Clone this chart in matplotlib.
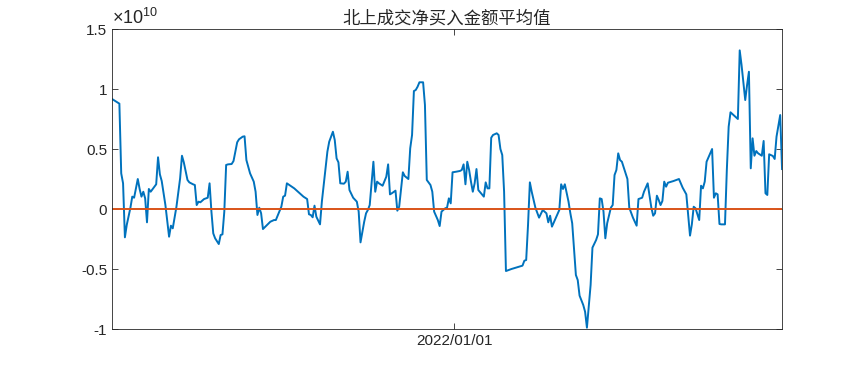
import numpy as np
import pandas as pd
import matplotlib
matplotlib.use('Agg')
import matplotlib.pyplot as plt
import matplotlib.dates as mdates

plt.rcParams['font.family'] = ['Liberation Sans', 'Noto Sans CJK SC', 'DejaVu Sans']
plt.rcParams['mathtext.fontset'] = 'custom'
plt.rcParams['mathtext.rm'] = 'Liberation Sans'
plt.rcParams['mathtext.default'] = 'regular'

# Start date of the series and day offsets of each observation
start_date = '2021-06-29'
day_offsets = [
    0, 4, 5, 6, 7, 8, 10, 11, 12, 14, 15, 16, 17, 18, 19, 20, 21, 23, 24, 25,
    26, 27, 29, 31, 32, 33, 35, 37, 38, 39, 41, 42, 44, 45, 46, 47, 48, 50, 52, 53,
    54, 55, 56, 58, 59, 60, 61, 62, 63, 65, 66, 68, 69, 71, 72, 73, 75, 77, 78, 79,
    80, 81, 82, 86, 88, 89, 92, 93, 94, 95, 99, 102, 104, 106, 107, 108, 109, 110, 111, 113,
    114, 117, 118, 120, 121, 122, 123, 124, 126, 127, 128, 129, 131, 133, 134, 135, 137, 138, 139, 140,
    142, 143, 144, 145, 147, 149, 150, 151, 152, 154, 155, 156, 158, 159, 161, 162, 163, 164, 165, 166,
    167, 169, 170, 171, 173, 174, 175, 177, 178, 179, 180, 181, 182, 183, 184, 185, 187, 189, 190, 191,
    192, 193, 194, 195, 196, 197, 198, 199, 201, 202, 203, 204, 205, 206, 207, 209, 210, 211, 212, 213,
    214, 217, 220, 223, 224, 225, 226, 227, 228, 230, 232, 234, 235, 236, 237, 238, 239, 241, 243, 244,
    245, 246, 248, 249, 250, 252, 253, 254, 256, 257, 258, 260, 261, 263, 264, 265, 266, 267, 268, 269,
    271, 272, 273, 274, 275, 276, 277, 279, 280, 281, 283, 285, 286, 288, 289, 291, 293, 294, 295, 296,
    297, 298, 299, 300, 301, 302, 305, 308, 310, 312, 313, 314, 315, 316, 317, 319, 320, 321, 322, 323,
    325, 326, 327, 328, 329, 330, 331, 333, 334, 335, 336, 338, 340, 341, 342, 344, 345, 346, 347, 348,
    349, 350, 351, 353, 354, 355, 356, 357, 359, 360, 361, 363, 364,
]

# Average northbound net buy amount, in units of 1e8 yuan
net_buy_yi = [
    91.7, 87.8, 29.7, 21.4, -23.6, -13.3, 1.1, 10.3, 9.4, 25.0, 16.7, 10.3, 14.4, 8.9, -11.1, 16.7, 14.4, 18.6, 20.6, 43.1,
    28.9, 23.3, 3.3, -23.1, -13.9, -16.1, 1.9, 25.6, 44.4, 38.9, 24.2, 22.2, 20.6, 20.0, 3.3, 6.1, 5.6, 8.3, 9.4, 21.4,
    -2.2, -20.3, -24.4, -29.2, -21.7, -21.1, -2.2, 36.7, 37.2, 37.5, 40.0, 55.6, 58.1, 60.3, 60.6, 40.8, 29.7, 22.8, 14.4, -5.0,
    1.1, -3.6, -16.7, -10.6, -9.2, -9.2, 2.0, 10.3, 11.1, 21.4, 17.2, 13.1, 10.3, 8.3, -4.4, -5.0, -6.9, 2.8, -6.4, -12.8,
    6.1, 47.8, 56.1, 64.4, 57.5, 42.2, 38.9, 21.4, 21.1, 22.8, 31.1, 15.8, 9.4, 6.1, -2.2, -27.8, -10.6, -3.6, -0.8, 3.3,
    39.4, 14.4, 22.8, 21.4, 19.4, 26.9, 37.2, 12.2, 13.1, 15.3, -1.4, 1.9, 30.6, 27.5, 25.0, 50.6, 61.7, 98.3, 99.2, 101.9,
    105.6, 105.6, 86.7, 24.2, 20.0, 14.4, -2.2, -9.2, -14.2, -2.2, -0.8, 0.6, 1.1, 8.9, 4.7, 30.6, 31.1, 31.7, 32.5, 37.2,
    20.6, 39.4, 32.5, 22.8, 14.4, 21.4, 33.3, 15.8, 12.2, 10.3, 22.2, 17.2, 17.2, 59.4, 61.7, 63.1, 61.7, 50.0, 45.0, 14.4,
    -51.7, -50.0, -48.6, -47.2, -43.1, -42.5, -13.3, 22.2, 14.4, 1.1, -7.2, -0.8, -2.2, -3.6, -11.1, -5.6, -14.7, -7.8, -0.8, 20.6,
    16.7, 20.6, 6.1, -3.6, -11.9, -55.0, -59.2, -72.2, -80.0, -85.6, -98.9, -63.3, -32.2, -25.8, -21.1, 8.9, 8.3, -2.2, -24.4, -11.9,
    1.1, 3.3, 28.3, 32.5, 46.4, 40.8, 39.4, 29.7, 25.0, 1.1, -7.2, -13.9, 8.3, 9.4, 14.4, 21.4, 1.1, -5.6, -3.6, 11.1,
    7.5, 3.3, 6.7, 22.8, 18.6, 21.9, 23.3, 25.0, 17.8, 12.2, -5.0, -22.2, -12.8, 1.9, 0.6, -9.2, 19.4, 17.2, 22.8, 39.4,
    46.4, 50.0, 9.4, 13.1, 12.2, -12.5, -12.8, -12.8, 32.5, 68.6, 80.6, 77.8, 75.0, 132.2, 120.0, 90.8, 103.3, 114.4, 33.9, 58.9,
    44.4, 48.3, 46.4, 44.4, 56.7, 13.1, 11.7, 45.6, 44.2, 41.7, 60.3, 78.3, 33.3,
]

y_ticks = [-1e10, -0.5e10, 0, 0.5e10, 1e10, 1.5e10]
x_tick_dates = ['2022-01-01']

dates = pd.to_datetime(start_date) + pd.to_timedelta(day_offsets, unit='D')
values = np.array(net_buy_yi) * 1e8

fig = plt.figure(figsize=(8.65, 3.71), dpi=100)
ax = fig.add_axes([0.1295, 0.1132, 0.7746, 0.8086])

ax.plot(dates, values, color='#0072BD', linewidth=1.4)
ax.plot(dates, np.zeros(len(dates)), color='#D95319', linewidth=1.4)

ax.set_xlim(dates[0], dates[-1])
ax.set_ylim(-1e10, 1.5e10)
ax.set_yticks(y_ticks)
ax.set_yticklabels(['%g' % (t / 1e10) for t in y_ticks])
ax.set_xticks(pd.to_datetime(x_tick_dates))
ax.xaxis.set_major_formatter(mdates.DateFormatter('%Y/%m/%d'))

ax.tick_params(direction='in', length=4, width=0.6, color='#262626',
               labelcolor='#262626', labelsize=11, top=True, right=True)
for side in ax.spines.values():
    side.set_color('#262626')
    side.set_linewidth(0.6)

# exponent label like MATLAB's axis multiplier
ax.text(0.0, 1.005, r'$\times10^{10}$', transform=ax.transAxes,
        ha='left', va='bottom', fontsize=13, color='#262626')
ax.set_title('北上成交净买入金额平均值', fontsize=12.5, color='#262626',
             family=['Noto Sans CJK SC', 'DejaVu Sans'], pad=4)

plt.savefig('out.png', dpi=100)
